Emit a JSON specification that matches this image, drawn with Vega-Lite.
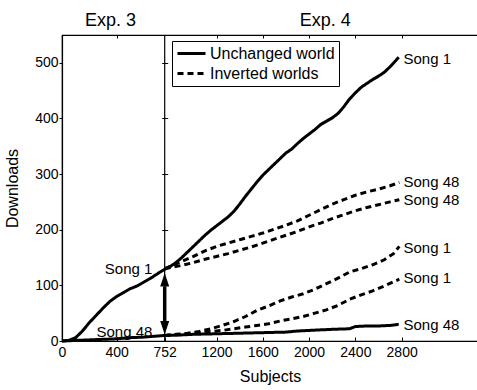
{
  "$schema": "https://vega.github.io/schema/vega-lite/v6.json",
  "width": 416,
  "height": 306,
  "autosize": "none",
  "padding": {"left": 62, "top": 35, "right": 0, "bottom": 49},
  "config": {
    "view": {"stroke": "black", "strokeWidth": 1.2},
    "font": "Liberation Sans",
    "axis": {
      "domainColor": "black", "tickColor": "black", "labelColor": "black", "titleColor": "black",
      "labelFont": "Liberation Sans", "titleFont": "Liberation Sans",
      "labelFontSize": 14, "titleFontSize": 16, "titleFontWeight": "normal",
      "grid": false, "tickWidth": 1, "domainWidth": 1.2, "labelOverlap": false, "labelFlush": false
    },
    "legend": {
      "labelFont": "Liberation Sans", "labelFontSize": 16, "labelColor": "black"
    }
  },
  "datasets": {
    "lines": [
      {"s": "U1", "world": "Unchanged world", "subjects": 0, "downloads": 0},
      {"s": "U1", "world": "Unchanged world", "subjects": 50, "downloads": 1},
      {"s": "U1", "world": "Unchanged world", "subjects": 100, "downloads": 6},
      {"s": "U1", "world": "Unchanged world", "subjects": 150, "downloads": 18},
      {"s": "U1", "world": "Unchanged world", "subjects": 200, "downloads": 33},
      {"s": "U1", "world": "Unchanged world", "subjects": 250, "downloads": 46},
      {"s": "U1", "world": "Unchanged world", "subjects": 300, "downloads": 59},
      {"s": "U1", "world": "Unchanged world", "subjects": 350, "downloads": 71},
      {"s": "U1", "world": "Unchanged world", "subjects": 400, "downloads": 80},
      {"s": "U1", "world": "Unchanged world", "subjects": 450, "downloads": 87},
      {"s": "U1", "world": "Unchanged world", "subjects": 500, "downloads": 94},
      {"s": "U1", "world": "Unchanged world", "subjects": 550, "downloads": 99},
      {"s": "U1", "world": "Unchanged world", "subjects": 600, "downloads": 106},
      {"s": "U1", "world": "Unchanged world", "subjects": 650, "downloads": 113},
      {"s": "U1", "world": "Unchanged world", "subjects": 700, "downloads": 121},
      {"s": "U1", "world": "Unchanged world", "subjects": 752, "downloads": 129},
      {"s": "U1", "world": "Unchanged world", "subjects": 800, "downloads": 134},
      {"s": "U1", "world": "Unchanged world", "subjects": 850, "downloads": 141},
      {"s": "U1", "world": "Unchanged world", "subjects": 900, "downloads": 150},
      {"s": "U1", "world": "Unchanged world", "subjects": 950, "downloads": 160},
      {"s": "U1", "world": "Unchanged world", "subjects": 1000, "downloads": 170},
      {"s": "U1", "world": "Unchanged world", "subjects": 1050, "downloads": 180},
      {"s": "U1", "world": "Unchanged world", "subjects": 1100, "downloads": 190},
      {"s": "U1", "world": "Unchanged world", "subjects": 1150, "downloads": 199},
      {"s": "U1", "world": "Unchanged world", "subjects": 1200, "downloads": 207},
      {"s": "U1", "world": "Unchanged world", "subjects": 1250, "downloads": 215},
      {"s": "U1", "world": "Unchanged world", "subjects": 1300, "downloads": 223},
      {"s": "U1", "world": "Unchanged world", "subjects": 1350, "downloads": 233},
      {"s": "U1", "world": "Unchanged world", "subjects": 1400, "downloads": 246},
      {"s": "U1", "world": "Unchanged world", "subjects": 1450, "downloads": 260},
      {"s": "U1", "world": "Unchanged world", "subjects": 1500, "downloads": 273},
      {"s": "U1", "world": "Unchanged world", "subjects": 1550, "downloads": 286},
      {"s": "U1", "world": "Unchanged world", "subjects": 1600, "downloads": 298},
      {"s": "U1", "world": "Unchanged world", "subjects": 1650, "downloads": 308},
      {"s": "U1", "world": "Unchanged world", "subjects": 1700, "downloads": 318},
      {"s": "U1", "world": "Unchanged world", "subjects": 1750, "downloads": 328},
      {"s": "U1", "world": "Unchanged world", "subjects": 1800, "downloads": 338},
      {"s": "U1", "world": "Unchanged world", "subjects": 1850, "downloads": 345},
      {"s": "U1", "world": "Unchanged world", "subjects": 1900, "downloads": 355},
      {"s": "U1", "world": "Unchanged world", "subjects": 1950, "downloads": 364},
      {"s": "U1", "world": "Unchanged world", "subjects": 2000, "downloads": 372},
      {"s": "U1", "world": "Unchanged world", "subjects": 2050, "downloads": 380},
      {"s": "U1", "world": "Unchanged world", "subjects": 2100, "downloads": 389},
      {"s": "U1", "world": "Unchanged world", "subjects": 2150, "downloads": 395},
      {"s": "U1", "world": "Unchanged world", "subjects": 2200, "downloads": 401},
      {"s": "U1", "world": "Unchanged world", "subjects": 2250, "downloads": 409},
      {"s": "U1", "world": "Unchanged world", "subjects": 2300, "downloads": 421},
      {"s": "U1", "world": "Unchanged world", "subjects": 2350, "downloads": 435},
      {"s": "U1", "world": "Unchanged world", "subjects": 2400, "downloads": 446},
      {"s": "U1", "world": "Unchanged world", "subjects": 2450, "downloads": 456},
      {"s": "U1", "world": "Unchanged world", "subjects": 2500, "downloads": 463},
      {"s": "U1", "world": "Unchanged world", "subjects": 2550, "downloads": 470},
      {"s": "U1", "world": "Unchanged world", "subjects": 2600, "downloads": 476},
      {"s": "U1", "world": "Unchanged world", "subjects": 2650, "downloads": 483},
      {"s": "U1", "world": "Unchanged world", "subjects": 2700, "downloads": 493},
      {"s": "U1", "world": "Unchanged world", "subjects": 2750, "downloads": 504},
      {"s": "U1", "world": "Unchanged world", "subjects": 2775, "downloads": 510},

      {"s": "U48", "world": "Unchanged world", "subjects": 0, "downloads": 0},
      {"s": "U48", "world": "Unchanged world", "subjects": 100, "downloads": 1},
      {"s": "U48", "world": "Unchanged world", "subjects": 200, "downloads": 2},
      {"s": "U48", "world": "Unchanged world", "subjects": 300, "downloads": 3},
      {"s": "U48", "world": "Unchanged world", "subjects": 400, "downloads": 4},
      {"s": "U48", "world": "Unchanged world", "subjects": 500, "downloads": 6},
      {"s": "U48", "world": "Unchanged world", "subjects": 600, "downloads": 7},
      {"s": "U48", "world": "Unchanged world", "subjects": 700, "downloads": 9},
      {"s": "U48", "world": "Unchanged world", "subjects": 752, "downloads": 10},
      {"s": "U48", "world": "Unchanged world", "subjects": 900, "downloads": 11},
      {"s": "U48", "world": "Unchanged world", "subjects": 1000, "downloads": 12},
      {"s": "U48", "world": "Unchanged world", "subjects": 1200, "downloads": 13},
      {"s": "U48", "world": "Unchanged world", "subjects": 1400, "downloads": 14},
      {"s": "U48", "world": "Unchanged world", "subjects": 1600, "downloads": 15},
      {"s": "U48", "world": "Unchanged world", "subjects": 1800, "downloads": 16},
      {"s": "U48", "world": "Unchanged world", "subjects": 1900, "downloads": 18},
      {"s": "U48", "world": "Unchanged world", "subjects": 2000, "downloads": 19},
      {"s": "U48", "world": "Unchanged world", "subjects": 2200, "downloads": 21},
      {"s": "U48", "world": "Unchanged world", "subjects": 2350, "downloads": 22},
      {"s": "U48", "world": "Unchanged world", "subjects": 2400, "downloads": 26},
      {"s": "U48", "world": "Unchanged world", "subjects": 2500, "downloads": 27},
      {"s": "U48", "world": "Unchanged world", "subjects": 2600, "downloads": 27},
      {"s": "U48", "world": "Unchanged world", "subjects": 2700, "downloads": 28},
      {"s": "U48", "world": "Unchanged world", "subjects": 2775, "downloads": 30},

      {"s": "I48a", "world": "Inverted worlds", "subjects": 752, "downloads": 130},
      {"s": "I48a", "world": "Inverted worlds", "subjects": 900, "downloads": 143},
      {"s": "I48a", "world": "Inverted worlds", "subjects": 1000, "downloads": 152},
      {"s": "I48a", "world": "Inverted worlds", "subjects": 1100, "downloads": 162},
      {"s": "I48a", "world": "Inverted worlds", "subjects": 1200, "downloads": 170},
      {"s": "I48a", "world": "Inverted worlds", "subjects": 1300, "downloads": 176},
      {"s": "I48a", "world": "Inverted worlds", "subjects": 1400, "downloads": 182},
      {"s": "I48a", "world": "Inverted worlds", "subjects": 1500, "downloads": 188},
      {"s": "I48a", "world": "Inverted worlds", "subjects": 1600, "downloads": 194},
      {"s": "I48a", "world": "Inverted worlds", "subjects": 1700, "downloads": 201},
      {"s": "I48a", "world": "Inverted worlds", "subjects": 1800, "downloads": 208},
      {"s": "I48a", "world": "Inverted worlds", "subjects": 1900, "downloads": 216},
      {"s": "I48a", "world": "Inverted worlds", "subjects": 2000, "downloads": 226},
      {"s": "I48a", "world": "Inverted worlds", "subjects": 2100, "downloads": 236},
      {"s": "I48a", "world": "Inverted worlds", "subjects": 2200, "downloads": 246},
      {"s": "I48a", "world": "Inverted worlds", "subjects": 2300, "downloads": 254},
      {"s": "I48a", "world": "Inverted worlds", "subjects": 2400, "downloads": 262},
      {"s": "I48a", "world": "Inverted worlds", "subjects": 2500, "downloads": 268},
      {"s": "I48a", "world": "Inverted worlds", "subjects": 2600, "downloads": 273},
      {"s": "I48a", "world": "Inverted worlds", "subjects": 2700, "downloads": 279},
      {"s": "I48a", "world": "Inverted worlds", "subjects": 2780, "downloads": 285},

      {"s": "I48b", "world": "Inverted worlds", "subjects": 752, "downloads": 130},
      {"s": "I48b", "world": "Inverted worlds", "subjects": 900, "downloads": 136},
      {"s": "I48b", "world": "Inverted worlds", "subjects": 1000, "downloads": 141},
      {"s": "I48b", "world": "Inverted worlds", "subjects": 1100, "downloads": 147},
      {"s": "I48b", "world": "Inverted worlds", "subjects": 1200, "downloads": 152},
      {"s": "I48b", "world": "Inverted worlds", "subjects": 1300, "downloads": 157},
      {"s": "I48b", "world": "Inverted worlds", "subjects": 1400, "downloads": 163},
      {"s": "I48b", "world": "Inverted worlds", "subjects": 1500, "downloads": 169},
      {"s": "I48b", "world": "Inverted worlds", "subjects": 1600, "downloads": 176},
      {"s": "I48b", "world": "Inverted worlds", "subjects": 1700, "downloads": 183},
      {"s": "I48b", "world": "Inverted worlds", "subjects": 1800, "downloads": 190},
      {"s": "I48b", "world": "Inverted worlds", "subjects": 1900, "downloads": 197},
      {"s": "I48b", "world": "Inverted worlds", "subjects": 2000, "downloads": 205},
      {"s": "I48b", "world": "Inverted worlds", "subjects": 2100, "downloads": 212},
      {"s": "I48b", "world": "Inverted worlds", "subjects": 2200, "downloads": 220},
      {"s": "I48b", "world": "Inverted worlds", "subjects": 2300, "downloads": 227},
      {"s": "I48b", "world": "Inverted worlds", "subjects": 2400, "downloads": 234},
      {"s": "I48b", "world": "Inverted worlds", "subjects": 2500, "downloads": 240},
      {"s": "I48b", "world": "Inverted worlds", "subjects": 2600, "downloads": 245},
      {"s": "I48b", "world": "Inverted worlds", "subjects": 2700, "downloads": 250},
      {"s": "I48b", "world": "Inverted worlds", "subjects": 2780, "downloads": 254},

      {"s": "I1a", "world": "Inverted worlds", "subjects": 752, "downloads": 10},
      {"s": "I1a", "world": "Inverted worlds", "subjects": 850, "downloads": 12},
      {"s": "I1a", "world": "Inverted worlds", "subjects": 950, "downloads": 14},
      {"s": "I1a", "world": "Inverted worlds", "subjects": 1050, "downloads": 17},
      {"s": "I1a", "world": "Inverted worlds", "subjects": 1150, "downloads": 22},
      {"s": "I1a", "world": "Inverted worlds", "subjects": 1250, "downloads": 28},
      {"s": "I1a", "world": "Inverted worlds", "subjects": 1350, "downloads": 35},
      {"s": "I1a", "world": "Inverted worlds", "subjects": 1450, "downloads": 44},
      {"s": "I1a", "world": "Inverted worlds", "subjects": 1550, "downloads": 55},
      {"s": "I1a", "world": "Inverted worlds", "subjects": 1650, "downloads": 63},
      {"s": "I1a", "world": "Inverted worlds", "subjects": 1750, "downloads": 72},
      {"s": "I1a", "world": "Inverted worlds", "subjects": 1850, "downloads": 79},
      {"s": "I1a", "world": "Inverted worlds", "subjects": 1950, "downloads": 85},
      {"s": "I1a", "world": "Inverted worlds", "subjects": 2050, "downloads": 93},
      {"s": "I1a", "world": "Inverted worlds", "subjects": 2150, "downloads": 103},
      {"s": "I1a", "world": "Inverted worlds", "subjects": 2250, "downloads": 113},
      {"s": "I1a", "world": "Inverted worlds", "subjects": 2350, "downloads": 124},
      {"s": "I1a", "world": "Inverted worlds", "subjects": 2450, "downloads": 130},
      {"s": "I1a", "world": "Inverted worlds", "subjects": 2550, "downloads": 137},
      {"s": "I1a", "world": "Inverted worlds", "subjects": 2650, "downloads": 146},
      {"s": "I1a", "world": "Inverted worlds", "subjects": 2730, "downloads": 157},
      {"s": "I1a", "world": "Inverted worlds", "subjects": 2780, "downloads": 170},

      {"s": "I1b", "world": "Inverted worlds", "subjects": 752, "downloads": 10},
      {"s": "I1b", "world": "Inverted worlds", "subjects": 850, "downloads": 11},
      {"s": "I1b", "world": "Inverted worlds", "subjects": 950, "downloads": 13},
      {"s": "I1b", "world": "Inverted worlds", "subjects": 1050, "downloads": 15},
      {"s": "I1b", "world": "Inverted worlds", "subjects": 1150, "downloads": 17},
      {"s": "I1b", "world": "Inverted worlds", "subjects": 1250, "downloads": 19},
      {"s": "I1b", "world": "Inverted worlds", "subjects": 1350, "downloads": 22},
      {"s": "I1b", "world": "Inverted worlds", "subjects": 1450, "downloads": 25},
      {"s": "I1b", "world": "Inverted worlds", "subjects": 1550, "downloads": 28},
      {"s": "I1b", "world": "Inverted worlds", "subjects": 1650, "downloads": 31},
      {"s": "I1b", "world": "Inverted worlds", "subjects": 1750, "downloads": 36},
      {"s": "I1b", "world": "Inverted worlds", "subjects": 1850, "downloads": 40},
      {"s": "I1b", "world": "Inverted worlds", "subjects": 1950, "downloads": 44},
      {"s": "I1b", "world": "Inverted worlds", "subjects": 2050, "downloads": 50},
      {"s": "I1b", "world": "Inverted worlds", "subjects": 2150, "downloads": 56},
      {"s": "I1b", "world": "Inverted worlds", "subjects": 2250, "downloads": 64},
      {"s": "I1b", "world": "Inverted worlds", "subjects": 2350, "downloads": 75},
      {"s": "I1b", "world": "Inverted worlds", "subjects": 2450, "downloads": 83},
      {"s": "I1b", "world": "Inverted worlds", "subjects": 2550, "downloads": 90},
      {"s": "I1b", "world": "Inverted worlds", "subjects": 2650, "downloads": 99},
      {"s": "I1b", "world": "Inverted worlds", "subjects": 2780, "downloads": 111}
    ],
    "endLabels": [
      {"subjects": 2816, "downloads": 507, "label": "Song 1"},
      {"subjects": 2816, "downloads": 285, "label": "Song 48"},
      {"subjects": 2816, "downloads": 253, "label": "Song 48"},
      {"subjects": 2816, "downloads": 168, "label": "Song 1"},
      {"subjects": 2816, "downloads": 114, "label": "Song 1"},
      {"subjects": 2816, "downloads": 28, "label": "Song 48"}
    ],
    "leftLabels": [
      {"subjects": 662, "downloads": 130, "label": "Song 1"},
      {"subjects": 662, "downloads": 17, "label": "Song 48"}
    ],
    "panels": [
      {"subjects": 355, "downloads": 567, "label": "Exp. 3"},
      {"subjects": 2139, "downloads": 567, "label": "Exp. 4"}
    ],
    "divider": [
      {"subjects": 752}
    ],
    "arrow": [
      {"subjects": 752, "low": 36, "high": 98}
    ]
  },
  "resolve": {"axis": {"x": "independent", "y": "independent"}},
  "layer": [
    {
      "data": {"name": "lines"},
      "mark": {"type": "line", "strokeWidth": 3, "color": "black"},
      "encoding": {
        "x": {
          "field": "subjects", "type": "quantitative",
          "scale": {"domain": [0, 752, 3460], "range": [0, 102.7, 416], "nice": false, "zero": false},
          "axis": {"orient": "bottom", "title": "Subjects", "format": "d", "values": [0, 400, 752, 1200, 1600, 2000, 2400, 2800], "tickSize": -4, "labelPadding": 8, "titlePadding": 9}
        },
        "y": {
          "field": "downloads", "type": "quantitative",
          "scale": {"domain": [0, 550], "nice": false},
          "axis": {"orient": "left", "title": "Downloads", "values": [0, 100, 200, 300, 400, 500], "tickSize": 3, "labelPadding": 1, "titlePadding": 14}
        },
        "detail": {"field": "s"},
        "strokeDash": {
          "field": "world", "type": "nominal",
          "scale": {"domain": ["Unchanged world", "Inverted worlds"], "range": [[1, 0], [6, 4]]},
          "legend": {
            "title": null, "orient": "none", "legendX": 110, "legendY": 6,
            "padding": 4, "rowPadding": 3, "strokeColor": "black", "fillColor": "white",
            "symbolType": "M-1,0L3,0", "symbolSize": 196, "symbolStrokeWidth": 3,
            "symbolStrokeColor": "black", "labelOffset": 17
          }
        }
      }
    },
    {
      "data": {"name": "divider"},
      "mark": {"type": "rule", "color": "black", "strokeWidth": 1.2},
      "encoding": {
        "x": {"field": "subjects", "type": "quantitative",
          "axis": {"orient": "top", "title": null, "labels": false, "domain": false, "values": [400, 1200, 1600, 2000, 2400, 2800], "tickSize": -3}}
      }
    },
    {
      "data": {"name": "arrow"},
      "mark": {"type": "rule", "color": "black", "strokeWidth": 3.5},
      "encoding": {
        "x": {"field": "subjects", "type": "quantitative", "axis": null},
        "y": {"field": "low", "type": "quantitative",
          "axis": {"orient": "right", "offset": -316.3, "title": null, "labels": false, "domain": false, "values": [100, 200, 300, 400, 500], "tickSize": 6}},
        "y2": {"field": "high"}
      }
    },
    {
      "data": {"name": "arrow"},
      "mark": {"type": "point", "shape": "M-1,0L1,0L0,-3Z", "filled": true, "color": "black", "opacity": 1, "size": 81, "strokeWidth": 0},
      "encoding": {
        "x": {"field": "subjects", "type": "quantitative", "axis": null},
        "y": {"field": "high", "type": "quantitative", "axis": null}
      }
    },
    {
      "data": {"name": "arrow"},
      "mark": {"type": "point", "shape": "M-1,0L1,0L0,3Z", "filled": true, "color": "black", "opacity": 1, "size": 81, "strokeWidth": 0},
      "encoding": {
        "x": {"field": "subjects", "type": "quantitative", "axis": null},
        "y": {"field": "low", "type": "quantitative", "axis": null}
      }
    },
    {
      "data": {"name": "endLabels"},
      "mark": {"type": "text", "align": "left", "baseline": "middle", "fontSize": 15, "font": "Liberation Sans", "color": "black"},
      "encoding": {
        "x": {"field": "subjects", "type": "quantitative", "axis": null},
        "y": {"field": "downloads", "type": "quantitative", "axis": null},
        "text": {"field": "label"}
      }
    },
    {
      "data": {"name": "leftLabels"},
      "mark": {"type": "text", "align": "right", "baseline": "middle", "fontSize": 15, "font": "Liberation Sans", "color": "black"},
      "encoding": {
        "x": {"field": "subjects", "type": "quantitative", "axis": null},
        "y": {"field": "downloads", "type": "quantitative", "axis": null},
        "text": {"field": "label"}
      }
    },
    {
      "data": {"name": "panels"},
      "mark": {"type": "text", "align": "center", "baseline": "alphabetic", "fontSize": 18, "font": "Liberation Sans", "color": "black"},
      "encoding": {
        "x": {"field": "subjects", "type": "quantitative", "axis": null},
        "y": {"field": "downloads", "type": "quantitative", "axis": null},
        "text": {"field": "label"}
      }
    }
  ]
}
